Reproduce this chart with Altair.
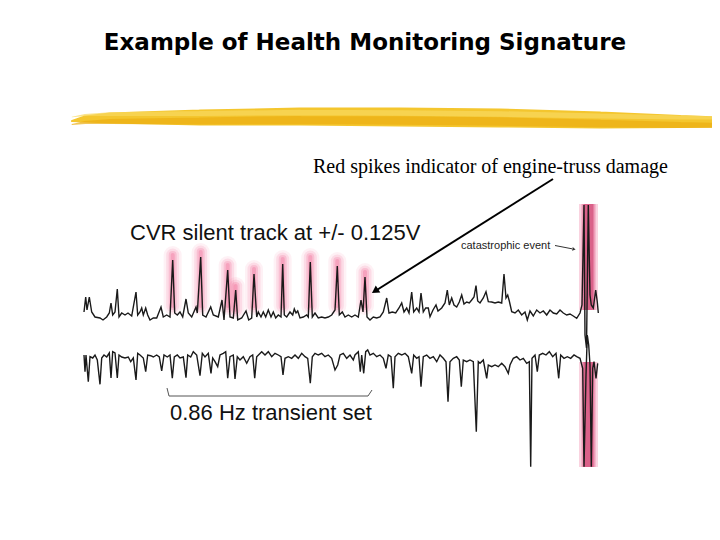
import altair as alt
import pandas as pd

# ---------------- data (page-pixel frame) ----------------
top_x = [84, 85.7, 87, 89.3, 91.7, 95, 100, 103, 106.7, 109.3, 111, 112.7, 115, 117.3, 119, 121.7, 125, 128, 131.7, 136,
         137.7, 140, 141.7, 143.3, 145.7, 147.7, 150, 153.3, 156.7, 161, 163.3, 166.7, 170, 172.7, 174.7, 177.3, 180, 182.7,
         186, 188.3, 191.7, 196, 197.3, 200.7, 202.7, 206, 210.7, 213.3, 218.3, 222, 224, 227.7, 230, 233.3, 235.7, 237.7,
         241.7, 246, 248.7, 251.7, 254, 256.7, 258.3, 261, 263.3, 265.7, 268.3, 271, 273.3, 275.7, 278.3, 281, 282.7, 284.3,
         286.7, 290, 292.7, 294.3, 296, 297.7, 300, 303.3, 306.7, 308.3, 310.3, 312.3, 315, 318.3, 321.7, 325, 328.3, 331.7,
         335, 337.3, 339.3, 342.3, 345, 348.3, 351.7, 355, 358.3, 361, 363, 365, 367, 370, 373.3, 376.7, 380, 383.3, 386.7,
         389, 392.3, 395.7, 399, 401.7, 404, 406.7, 409, 411.7, 413.7, 416.7, 419, 421, 423.3, 425.7, 428.3, 430, 433, 436,
         438, 441.7, 445, 447.3, 449.3, 451.7, 454, 456.7, 459.3, 461.7, 464, 466.7, 469.3, 471.7, 474, 476, 477.7, 480,
         483.3, 486, 488.3, 491.7, 495, 498.3, 501.7, 504, 506, 507.7, 509.3, 511.7, 515, 518.3, 521.7, 525, 527.3, 530,
         533.3, 536.7, 540, 543.3, 546.7, 550, 553.3, 556.7, 560, 563.3, 566.7, 570, 573.3, 576.7, 580, 582, 584, 585,
         586.5, 588.3, 590, 591.3, 593.3, 595.7, 597.3, 598.3]
top_y = [312, 297, 310, 297, 312, 317, 318, 320, 317, 313, 303, 315, 312, 289, 317, 313, 315, 313, 316, 292,
         315, 312, 308, 315, 308, 315, 320, 318, 318, 307, 317, 315, 317, 260, 313, 315, 312, 317,
         299, 313, 317, 307, 313, 257, 315, 317, 307, 315, 317, 300, 320, 270, 317, 318, 290, 320,
         318, 311, 320, 318, 274, 317, 312, 317, 312, 317, 310, 317, 312, 318, 315, 317, 264, 315,
         317, 312, 315, 309, 313, 311, 318, 317, 315, 317, 262, 317, 313, 318, 317, 318, 317, 315,
         310, 266, 315, 312, 317, 315, 317, 315, 317, 300, 312, 277, 317, 320, 317, 318, 317, 312, 298,
         313, 312, 313, 308, 303, 312, 308, 313, 292, 312, 308, 312, 293, 312, 308, 308, 316.7, 310, 305,
         311, 308, 303, 290, 305, 298, 305, 307, 302, 295, 304, 302, 303, 300, 297, 285.7, 301, 303,
         298, 291.7, 301.7, 302, 303, 302, 303, 274, 298, 295, 301, 311.7, 313, 310, 315, 312, 320, 311,
         316, 310, 313, 311, 315, 310, 313, 314, 310, 313, 315, 314, 316, 318.3, 313, 305, 205, 335,
         348, 205, 295, 305, 308, 290, 302, 313]

bot_x = [84, 85, 86, 88.3, 90, 92.7, 95, 97.3, 100, 101.7, 104, 106.7, 109.3, 111, 112.7, 115, 117.3, 119, 121.7, 125,
         128.3, 130.7, 133.3, 136, 137.7, 140, 143.3, 145.7, 147.7, 150.7, 153.3, 156.7, 159.3, 161.7, 164, 167.3, 170,
         172.3, 174.3, 177.3, 180, 183.3, 186, 187.7, 190.7, 193.3, 196.7, 200, 202.3, 205, 208.3, 211, 212.7, 215, 217.7,
         220, 223.3, 225.7, 227.7, 230, 233.3, 235, 237.3, 240, 243.3, 246.7, 250, 252.7, 254.7, 256.7, 261.7, 265, 268.3,
         271.7, 275, 278.3, 281, 283, 285, 288.3, 291.7, 295, 298.3, 301.7, 305, 307.7, 310.3, 312.3, 315, 318.3, 321.7,
         325, 328.3, 331.7, 335, 337.7, 340, 343.3, 346.7, 350, 353.3, 355, 358.3, 360.3, 361.7, 363.7, 365.7, 367.7, 370,
         373.3, 376.7, 380, 383.3, 386, 388.3, 391, 393.3, 395, 398.3, 401.7, 405, 408.3, 411.7, 413.7, 416.7, 419, 421,
         423.3, 426.7, 430, 433.3, 436.7, 440, 443.3, 446, 448, 450, 453.3, 456.7, 459.3, 461.3, 463.3, 466.7, 470, 473.3,
         476.3, 478.3, 480, 483.3, 486.7, 488.3, 491.7, 495, 498.3, 501.7, 505, 508.3, 510, 513.3, 516.7, 520, 523.3, 526.7,
         529.3, 530.7, 532, 535, 537.3, 539.3, 542.7, 546, 549.3, 552.7, 556, 558.7, 560.7, 564, 567.3, 570.7, 574, 576.7,
         580, 582.7, 584, 586, 587.3, 588.7, 590, 591.3, 592.7, 594, 596, 597.7]
bot_y = [355, 371.7, 355, 381.7, 356.7, 358, 355, 360, 384.3, 358, 355, 357, 353, 378, 351.7, 353, 378, 355, 357, 358,
         357, 361.7, 358, 380, 353.3, 355, 358, 371.7, 355, 355.7, 357, 355, 357, 371, 355, 357, 355,
         378.3, 357, 355, 358, 357, 377.7, 355, 357, 351.7, 355, 375.7, 353.3, 357, 353.3, 373.3, 358, 361.7, 366.7,
         355, 353.3, 351.7, 378.3, 356.7, 355, 379, 356.7, 360, 356.7, 363.3, 356.7, 355, 378.3, 356.7, 351.7, 355, 351.7,
         356.7, 353.3, 355, 356.7, 375, 358.3, 356.7, 358.3, 355, 358.3, 353.3, 356.7, 358.3, 383.3, 356.7, 353.3, 355, 353.3,
         356.7, 355, 358.3, 370, 365, 355, 353.3, 358.3, 355, 360, 355, 351.7, 371.7, 355, 373.3, 351.7, 350, 355,
         353.3, 356.7, 355, 358.3, 368.3, 355, 356.7, 388.3, 356.7, 353.3, 355, 353.3, 356.7, 373.3, 355, 358.3, 356.7, 386.7,
         356.7, 355, 358.3, 356.7, 361.7, 355, 358.3, 361.7, 401.7, 361.7, 358.3, 356.7, 360, 386.7, 360, 361.7, 360, 361.7,
         431.7, 361.7, 363.3, 360, 378.3, 365, 366.7, 365, 366.7, 363.3, 366.7, 373.3, 365, 358.3, 356.7, 360, 358.3, 363.3,
         361.7, 466.7, 358.3, 355, 371.7, 355, 353.3, 355, 351.7, 356.7, 353.3, 378.3, 355, 358.3, 356.7, 358.3, 355, 356.7,
         358.3, 368.3, 466.7, 375, 335, 345, 365, 466.7, 368.3, 361.7, 378.3, 363.3]

# red-highlighted spikes (0.86 Hz transient set)
spike_x = [172.7, 200.7, 227.7, 235.7, 254, 282.7, 310.3, 337.3, 365]
spike_top = [255, 252, 265, 286, 269, 259, 257, 261, 272]
spike_bottom = [306, 306, 306, 310, 306, 306, 306, 306, 306]

# catastrophic event band
cat_x = [579, 579]
cat_x2 = [598, 598]
cat_top = [204, 362]
cat_bottom = [310, 467]

# yellow brush stroke under the title
brush_x = [72, 85, 110, 200, 300, 400, 500, 600, 680, 720]
brush_y = [121, 119, 118, 117.5, 116.5, 117, 118, 120, 121.5, 122]
brush_w = [2, 7, 11, 16, 18, 19, 19, 17, 13, 11]

# bracket for the transient set
bracket_x = [167, 169, 368, 372]
bracket_y = [388, 396, 396, 390]

# ---------------- chart ----------------
X = alt.Scale(domain=[8, 712])
Y = alt.Scale(domain=[8, 532], reverse=True)


def xq(f):
    return alt.X(f"{f}:Q", scale=X, axis=None)


def yq(f):
    return alt.Y(f"{f}:Q", scale=Y, axis=None)


top_df = pd.DataFrame({"x": top_x, "y": top_y, "i": range(len(top_x))})
bot_df = pd.DataFrame({"x": bot_x, "y": bot_y, "i": range(len(bot_x))})
spike_df = pd.DataFrame({"x": spike_x, "y": spike_top, "y2": spike_bottom})
cat_df = pd.DataFrame({"x": cat_x, "x2": cat_x2, "y": cat_top, "y2": cat_bottom})
brush_df = pd.DataFrame({"x": brush_x, "y": brush_y, "w": brush_w, "i": range(len(brush_x))})
brush2_df = pd.DataFrame({"x": brush_x, "y": [v + 3.5 for v in brush_y],
                          "w": [v * 0.45 for v in brush_w], "i": range(len(brush_x))})
brush3_df = pd.DataFrame({"x": brush_x, "y": [v - 4 for v in brush_y],
                          "w": [v * 0.3 for v in brush_w], "i": range(len(brush_x))})
bracket_df = pd.DataFrame({"x": bracket_x, "y": bracket_y, "i": range(len(bracket_x))})

layers = []

# brush stroke
layers.append(alt.Chart(brush_df).mark_trail(color="#F4C62E").encode(
    x=xq("x"), y=yq("y"), size=alt.Size("w:Q", scale=None, legend=None), order="i:Q"))
layers.append(alt.Chart(brush2_df).mark_trail(color="#EBAE12", opacity=0.7).encode(
    x=xq("x"), y=yq("y"), size=alt.Size("w:Q", scale=None, legend=None), order="i:Q"))
layers.append(alt.Chart(brush3_df).mark_trail(color="#F8D860", opacity=0.7).encode(
    x=xq("x"), y=yq("y"), size=alt.Size("w:Q", scale=None, legend=None), order="i:Q"))

# glows around red spikes
for w, op in [(18, 0.08), (13, 0.13), (8, 0.2), (4, 0.25)]:
    layers.append(alt.Chart(spike_df).mark_rule(color="#EE4E84", opacity=op, strokeWidth=w, strokeCap="round").encode(
        x=xq("x"), y=yq("y"), y2=alt.Y2("y2:Q")))

# catastrophic band
layers.append(alt.Chart(cat_df).mark_rect(color="#F6B6CB", opacity=0.6).encode(
    x=xq("x"), x2=alt.X2("x2:Q"), y=yq("y"), y2=alt.Y2("y2:Q")))
cat_mid = cat_df.assign(x=[581.5, 581.5], x2=[595.5, 595.5])
layers.append(alt.Chart(cat_mid).mark_rect(color="#E77A9E", opacity=0.6).encode(
    x=xq("x"), x2=alt.X2("x2:Q"), y=yq("y"), y2=alt.Y2("y2:Q")))
cat_core = cat_df.assign(x=[583.5, 583.5], x2=[593.5, 593.5])
layers.append(alt.Chart(cat_core).mark_rect(color="#D24775", opacity=0.7).encode(
    x=xq("x"), x2=alt.X2("x2:Q"), y=yq("y"), y2=alt.Y2("y2:Q")))

# traces
layers.append(alt.Chart(top_df).mark_line(color="#1a1a1a", strokeWidth=1.4).encode(
    x=xq("x"), y=yq("y"), order="i:Q"))
layers.append(alt.Chart(bot_df).mark_line(color="#1a1a1a", strokeWidth=1.4).encode(
    x=xq("x"), y=yq("y"), order="i:Q"))

# bracket
layers.append(alt.Chart(bracket_df).mark_line(color="#555555", strokeWidth=1).encode(
    x=xq("x"), y=yq("y"), order="i:Q"))

# arrows
arrow_df = pd.DataFrame({"x": [553], "y": [179], "x2": [376], "y2": [290.5]})
layers.append(alt.Chart(arrow_df).mark_rule(color="black", strokeWidth=2).encode(
    x=xq("x"), y=yq("y"), x2=alt.X2("x2:Q"), y2=alt.Y2("y2:Q")))
layers.append(alt.Chart(pd.DataFrame({"x": [375], "y": [291]})).mark_point(
    shape="triangle-up", filled=True, color="black", opacity=1, size=70, angle=237).encode(x=xq("x"), y=yq("y")))

small_df = pd.DataFrame({"x": [555], "y": [245.5], "x2": [572], "y2": [248.8]})
layers.append(alt.Chart(small_df).mark_rule(color="#333333", strokeWidth=1).encode(
    x=xq("x"), y=yq("y"), x2=alt.X2("x2:Q"), y2=alt.Y2("y2:Q")))
layers.append(alt.Chart(pd.DataFrame({"x": [574], "y": [249.2]})).mark_point(
    shape="triangle-up", filled=True, color="#333333", opacity=1, size=14, angle=100).encode(x=xq("x"), y=yq("y")))


# texts
def txt(x, y, s, **kw):
    return alt.Chart(pd.DataFrame({"x": [x], "y": [y], "t": [s]})).mark_text(baseline="alphabetic", **kw).encode(
        x=xq("x"), y=yq("y"), text="t:N")


layers.append(txt(365, 50, "Example of Health Monitoring Signature", align="center",
                  font="DejaVu Sans", fontWeight="bold", fontSize=23, color="black"))
layers.append(txt(313, 173, "Red spikes indicator of engine-truss damage", align="left",
                  font="Liberation Serif", fontSize=20, color="black"))
layers.append(txt(130, 240, "CVR silent track at +/- 0.125V", align="left",
                  font="Liberation Sans", fontSize=22, color="#111111"))
layers.append(txt(461, 249, "catastrophic event", align="left",
                  font="Liberation Sans", fontSize=11, color="#222222"))
layers.append(txt(170, 420, "0.86 Hz transient set", align="left",
                  font="Liberation Sans", fontSize=22, color="#111111"))

chart = alt.layer(*layers).properties(
    width=704, height=524, padding=0, autosize=alt.AutoSizeParams(type="none"),
    background="white"
).configure_view(stroke=None)

chart.save("out.html", embed_options={"renderer": "svg", "actions": False})
